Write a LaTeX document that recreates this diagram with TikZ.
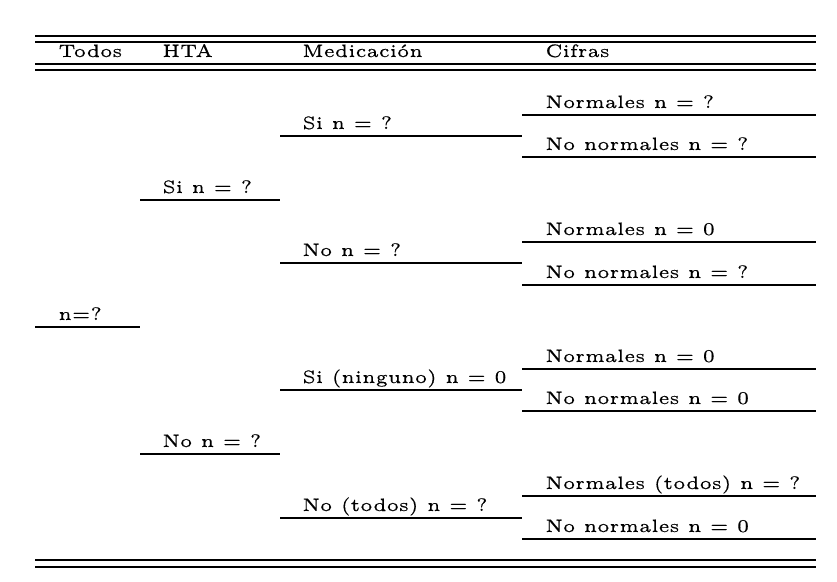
\documentclass[tikz,border=0pt]{standalone}
\usepackage{fontspec}
\setmainfont{lmroman5-regular.otf}[FakeBold=0.4]
\begin{document}
\begin{tikzpicture}[x=0.5pt,y=-0.5pt,
    lbl/.style={anchor=base west,inner sep=0pt,font=\fontsize{9}{11}\selectfont},
    rule/.style={line width=0.8pt}]
  \useasboundingbox (0,0) rectangle (837,582);
  % table frame
  \draw[rule] (35,36) -- (816,36);
  \draw[rule] (35,42) -- (816,42);
  \draw[rule] (35,64) -- (816,64);
  \draw[rule] (35,70) -- (816,70);
  \draw[rule] (35,560) -- (816,560);
  \draw[rule] (35,567) -- (816,567);
  % header
  \node (hTodos) [lbl] at (58,57) {Todos};
  \node (hHTA) [lbl] at (162,57) {HTA};
  \node (hMed) [lbl] at (302,57) {Medicación};
  \node (hCif) [lbl] at (545,57) {Cifras};
  % todos
  \node (todos) [lbl] at (58,320) {n=?};
  \draw[rule] (35,327) -- (140,327);
  % HTA
  \node (htaSi) [lbl] at (162,193) {Si n = ?};
  \draw[rule] (140,200) -- (280,200);
  \node (htaNo) [lbl] at (162,447) {No n = ?};
  \draw[rule] (140,454) -- (280,454);
  % medicacion
  \node (medSi) [lbl] at (302,129) {Si n = ?};
  \draw[rule] (280,136) -- (522,136);
  \node (medNo) [lbl] at (302,256) {No n = ?};
  \draw[rule] (280,263) -- (522,263);
  \node (medNinguno) [lbl] at (302,383) {Si (ninguno) n = 0};
  \draw[rule] (280,390) -- (522,390);
  \node (medTodos) [lbl] at (302,511) {No (todos) n = ?};
  \draw[rule] (280,518) -- (522,518);
  % cifras
  \node (c1) [lbl] at (545,108) {Normales n = ?};
  \draw[rule] (522,115) -- (816,115);
  \node (c2) [lbl] at (545,150) {No normales n = ?};
  \draw[rule] (522,157) -- (816,157);
  \node (c3) [lbl] at (545,235) {Normales n = 0};
  \draw[rule] (522,242) -- (816,242);
  \node (c4) [lbl] at (545,278) {No normales n = ?};
  \draw[rule] (522,285) -- (816,285);
  \node (c5) [lbl] at (545,362) {Normales n = 0};
  \draw[rule] (522,369) -- (816,369);
  \node (c6) [lbl] at (545,404) {No normales n = 0};
  \draw[rule] (522,411) -- (816,411);
  \node (c7) [lbl] at (545,489) {Normales (todos) n = ?};
  \draw[rule] (522,496) -- (816,496);
  \node (c8) [lbl] at (545,532) {No normales n = 0};
  \draw[rule] (522,539) -- (816,539);
\end{tikzpicture}
\end{document}
